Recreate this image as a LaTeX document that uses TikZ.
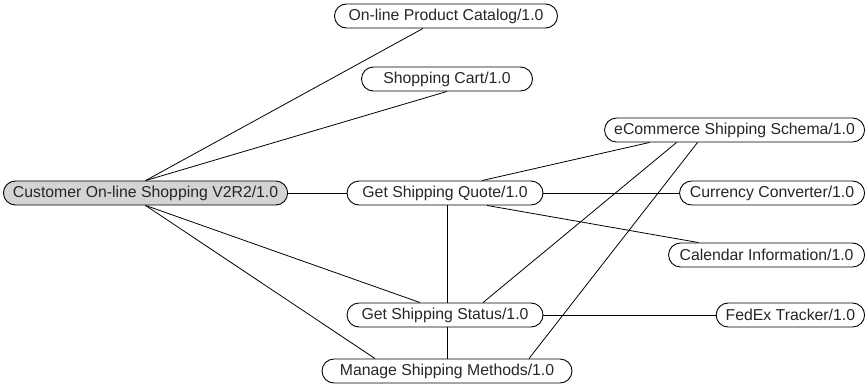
\documentclass[tikz,border=0pt]{standalone}
\usepackage{fontspec}
\setmainfont{Liberation Sans}

\begin{document}
\begin{tikzpicture}[x=1pt,y=-1pt,
	  svc/.style={draw,line width=0.9pt,rounded corners=12pt,minimum height=24pt,
	    inner xsep=9.5pt,inner ysep=0pt,font=\fontsize{15.8}{18}\selectfont,text=black!85},
	  svcmain/.style={svc,fill=black!17},
	  link/.style={line width=0.8pt}]
	  \useasboundingbox (0,0) rectangle (866,383);
	  \node[svcmain,anchor=west,minimum width=284pt] (cust) at (3,193) {Customer On-line Shopping V2R2/1.0};
	  \node[svc,minimum width=223pt] (catalog) at (446,16) {On-line Product Catalog/1.0};
	  \node[svc,minimum width=171pt] (cart) at (447,79) {Shopping Cart/1.0};
	  \node[svc,minimum width=196pt] (quote) at (445,193) {Get Shipping Quote/1.0};
	  \node[svc,minimum width=196pt] (status) at (445,315) {Get Shipping Status/1.0};
	  \node[svc,minimum width=250pt] (manage) at (447,371) {Manage Shipping Methods/1.0};
	  \node[svc,anchor=east,minimum width=260pt] (schema) at (865,130) {eCommerce Shipping Schema/1.0};
	  \node[svc,anchor=east,minimum width=185pt] (currency) at (865,193) {Currency Converter/1.0};
	  \node[svc,anchor=east,minimum width=196pt] (calendar) at (865,255) {Calendar Information/1.0};
	  \node[svc,anchor=east,minimum width=143pt] (fedex) at (865,315) {FedEx Tracker/1.0};
	  \draw[link] (cust.north) -- ([xshift=-23pt]catalog.south);
	  \draw[link] (cust.north) -- (cart.south);
	  \draw[link] (cust.east) -- (quote.west);
	  \draw[link] (cust.south) -- ([xshift=-25pt]status.north);
	  \draw[link] (cust.south) -- ([xshift=-72pt]manage.north);
	  \draw[link] ([xshift=37pt]quote.north) -- ([xshift=-85pt]schema.south);
	  \draw[link] (quote.east) -- (currency.west);
	  \draw[link] ([xshift=42pt]quote.south) -- ([xshift=-68pt]calendar.north);
	  \draw[link] ([xshift=2pt]quote.south) -- ([xshift=2pt]status.north);
	  \draw[link] ([xshift=38pt]status.north) -- ([xshift=-58pt]schema.south);
	  \draw[link] (status.east) -- (fedex.west);
	  \draw[link] ([xshift=2pt]status.south) -- (manage.north);
	  \draw[link] ([xshift=82pt]manage.north) -- ([xshift=-37pt]schema.south);
	\end{tikzpicture}
\end{document}
